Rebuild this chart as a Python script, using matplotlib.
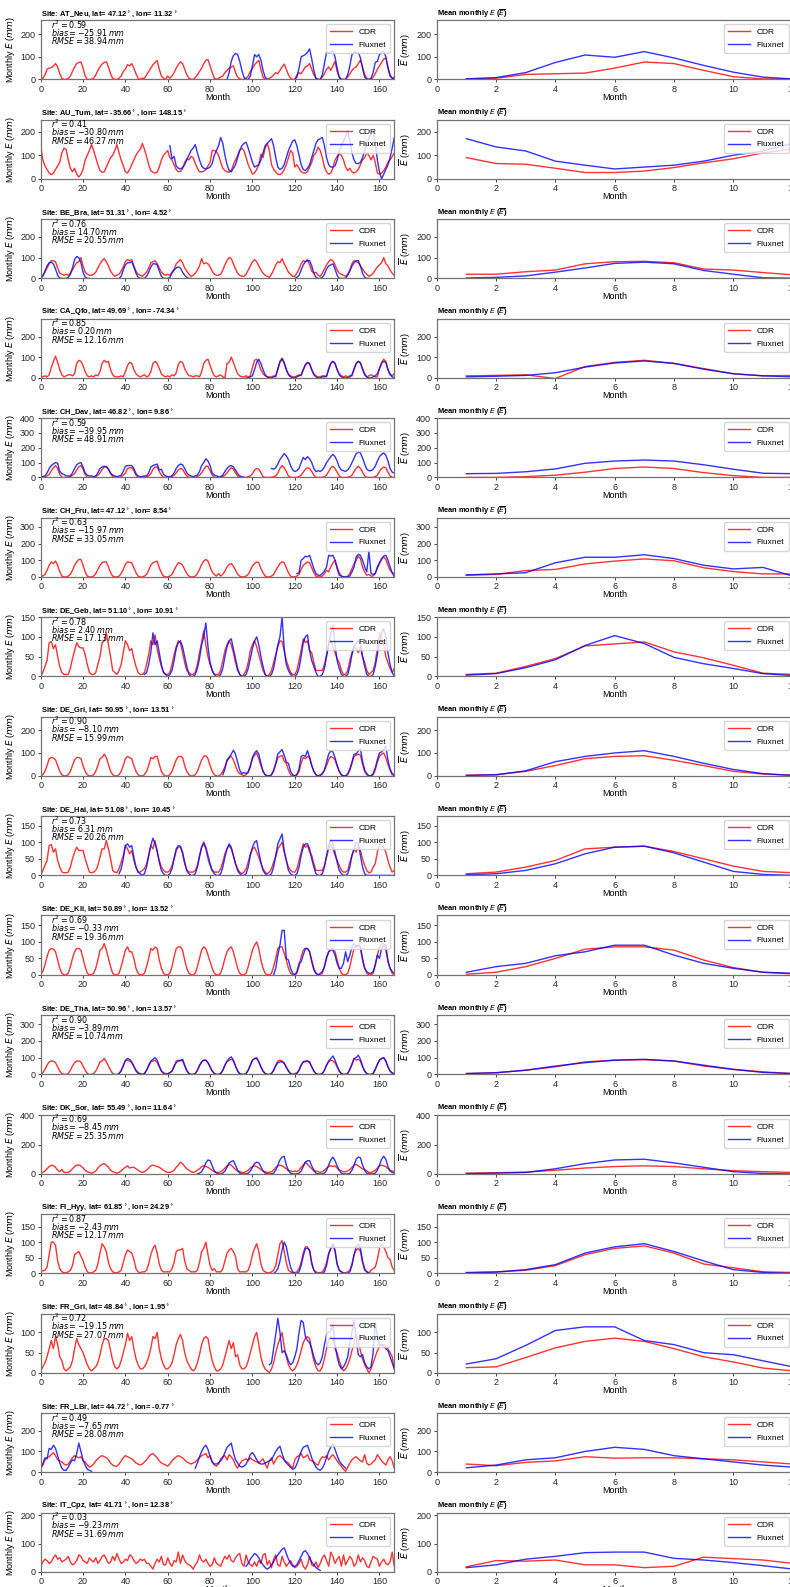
import numpy as np
import matplotlib
matplotlib.use('Agg')
import matplotlib.pyplot as plt

plt.rcParams['font.family'] = ['Liberation Sans', 'DejaVu Sans']
plt.rcParams['mathtext.fontset'] = 'dejavusans'

sites = ['AT_Neu', 'AU_Tum', 'BE_Bra', 'CA_Qfo', 'CH_Dav', 'CH_Fru', 'DE_Geb', 'DE_Gri',
         'DE_Hai', 'DE_Kli', 'DE_Tha', 'DK_Sor', 'FI_Hyy', 'FR_Gri', 'FR_LBr', 'IT_Cpz']
lats = [47.12, -35.66, 51.31, 49.69, 46.82, 47.12, 51.10, 50.95, 51.08, 50.89, 50.96, 55.49, 61.85, 48.84, 44.72, 41.71]
lons = [11.32, 148.15, 4.52, -74.34, 9.86, 8.54, 10.91, 13.51, 10.45, 13.52, 13.57, 11.64, 24.29, 1.95, -0.77, 12.38]
r2 = [0.59, 0.41, 0.76, 0.85, 0.59, 0.63, 0.78, 0.90, 0.73, 0.69, 0.90, 0.69, 0.87, 0.72, 0.49, 0.03]
bias = [-25.91, -30.80, 14.70, 0.20, -39.95, -15.97, 2.40, -8.10, 6.31, -0.33, -3.89, -8.45, -2.43, -19.15, -7.65, -9.23]
rmse = [38.94, 46.27, 20.55, 12.16, 48.91, 33.05, 17.13, 15.99, 20.26, 19.36, 10.74, 25.35, 12.17, 27.07, 28.08, 31.69]

# monthly E (mm), Jan 2001 onwards, one row per year
cdr_at_neu = [10, 5, 20, 45, 50, 52, 60, 70, 55, 25, 5, 0,
              0, 5, 15, 35, 55, 70, 75, 78, 50, 15, 0, 0,
              0, 5, 20, 40, 55, 68, 75, 78, 55, 25, 5, 0,
              0, 5, 15, 35, 45, 65, 60, 70, 50, 25, 5, 0,
              5, 5, 20, 35, 50, 65, 75, 83, 45, 15, 5, 0,
              15, 5, 15, 30, 50, 65, 78, 70, 45, 20, 5, 0,
              0, 8, 20, 35, 50, 70, 85, 88, 60, 30, 5, 0,
              5, 10, 15, 30, 40, 50, 55, 60, 30, 10, 2, 0,
              0, 5, 15, 35, 50, 65, 75, 85, 45, 10, 0, 0,
              5, 10, 20, 30, 25, 40, 55, 68, 45, 20, 5, 0,
              0, 20, 30, 25, 40, 55, 60, 70, 45, 20, 5, 0,
              0, 10, 25, 45, 55, 40, 60, 80, 35, 10, 0, 0,
              0, 10, 25, 40, 50, 55, 70, 85, 55, 20, 5, 0,
              0, 10, 25, 45, 60, 75, 90, 95, 55, 20, 5, 10]
cdr_au_tum = [140, 80, 55, 40, 25, 18, 25, 40, 55, 70, 110, 130,
              125, 80, 45, 30, 45, 20, 8, 20, 40, 80, 100, 120,
              145, 120, 90, 60, 35, 28, 30, 50, 70, 90, 100, 120,
              145, 110, 80, 55, 30, 25, 40, 60, 80, 100, 115, 125,
              150, 125, 95, 60, 35, 28, 25, 28, 50, 80, 100, 110,
              120, 90, 80, 60, 40, 30, 32, 45, 70, 85, 80, 95,
              90, 65, 45, 30, 30, 32, 40, 55, 70, 120, 120, 115,
              100, 70, 45, 35, 30, 28, 35, 60, 80, 100, 120, 130,
              120, 90, 60, 40, 20, 25, 40, 60, 105, 90, 130, 150,
              120, 60, 40, 30, 20, 18, 25, 40, 60, 90, 120, 110,
              50, 60, 45, 30, 25, 25, 30, 50, 70, 100, 110, 135,
              120, 90, 50, 30, 20, 25, 45, 80, 95, 105, 100, 80,
              50, 35, 45, 30, 25, 30, 40, 60, 80, 90, 110, 100,
              80, 100, 70, 25, 20, 25, 35, 50, 70, 80, 95, 110]
cdr_be_bra = [5, 15, 30, 50, 70, 85, 85, 80, 50, 25, 20, 15,
              20, 15, 25, 40, 60, 75, 80, 100, 60, 30, 20, 15,
              15, 20, 30, 50, 70, 85, 95, 80, 60, 35, 20, 10,
              15, 20, 35, 55, 80, 90, 85, 90, 60, 35, 20, 15,
              10, 20, 30, 50, 75, 80, 85, 70, 50, 30, 20, 15,
              20, 15, 30, 45, 70, 80, 90, 75, 50, 35, 20, 10,
              15, 25, 40, 60, 95, 70, 75, 70, 55, 35, 20, 15,
              15, 20, 40, 65, 85, 100, 95, 70, 45, 25, 15, 10,
              10, 20, 40, 60, 80, 90, 80, 60, 40, 25, 15, 10,
              5, 20, 40, 65, 80, 75, 95, 70, 50, 30, 20, 10,
              10, 25, 45, 70, 85, 80, 90, 65, 35, 25, 30, 15,
              10, 25, 45, 65, 80, 90, 85, 65, 40, 25, 20, 15,
              10, 20, 40, 70, 85, 80, 75, 60, 45, 30, 20, 10,
              15, 25, 40, 55, 65, 75, 100, 70, 60, 40, 25, 15]
cdr_ca_qfo = [10, 5, 10, 5, 15, 50, 80, 105, 75, 40, 15, 5,
              10, 15, 15, 10, 20, 70, 85, 80, 60, 30, 10, 5,
              10, 5, 15, 10, 30, 70, 85, 75, 80, 40, 15, 5,
              5, 5, 10, 5, 30, 60, 75, 70, 40, 20, 10, 5,
              10, 15, 5, 10, 30, 70, 80, 70, 45, 20, 10, 5,
              10, 5, 15, 10, 25, 65, 80, 75, 45, 25, 10, 10,
              5, 10, 10, 5, 30, 70, 85, 90, 60, 30, 10, 5,
              10, 15, 5, 0, 70, 75, 100, 75, 45, 20, 10, 5,
              5, 10, 5, 10, 50, 85, 90, 70, 40, 20, 10, 5,
              5, 5, 10, 5, 40, 75, 90, 70, 40, 20, 10, 5,
              5, 10, 15, 10, 40, 60, 75, 65, 40, 20, 10, 5,
              5, 10, 10, 5, 45, 70, 80, 70, 40, 20, 10, 5,
              10, 5, 10, 10, 40, 70, 80, 70, 45, 20, 5, 10,
              15, 10, 5, 5, 45, 75, 90, 80, 40, 20, 10, 20]
cdr_ch_dav = [0, 0, 5, 10, 20, 45, 65, 80, 60, 20, 0, 0,
              0, 0, 5, 15, 25, 50, 70, 80, 55, 20, 0, 0,
              0, 0, 5, 15, 30, 55, 70, 75, 55, 25, 5, 0,
              0, 0, 5, 15, 30, 60, 65, 65, 45, 15, 0, 0,
              0, 0, 5, 10, 25, 55, 70, 70, 40, 15, 0, 0,
              0, 0, 5, 15, 30, 50, 60, 55, 30, 10, 0, 0,
              0, 0, 5, 15, 30, 55, 75, 75, 45, 15, 0, 0,
              0, 0, 5, 15, 30, 50, 65, 55, 30, 10, 0, 0,
              0, 0, 5, 10, 25, 50, 60, 55, 30, 5, 0, 0,
              0, 0, 5, 10, 30, 60, 80, 65, 40, 10, 0, 0,
              0, 0, 5, 15, 35, 55, 65, 60, 40, 15, 0, 0,
              0, 0, 5, 15, 40, 65, 75, 60, 35, 10, 0, 0,
              0, 0, 5, 15, 40, 60, 75, 60, 35, 10, 0, 0,
              0, 0, 5, 15, 40, 60, 70, 65, 35, 10, 0, 0]
cdr_ch_fru = [5, 5, 15, 40, 70, 90, 80, 95, 70, 30, 5, 0,
              0, 5, 15, 40, 70, 90, 105, 105, 70, 30, 5, 0,
              0, 5, 20, 45, 70, 85, 90, 90, 60, 25, 5, 0,
              0, 5, 20, 45, 75, 90, 88, 85, 55, 25, 5, 0,
              0, 5, 15, 40, 70, 85, 90, 95, 55, 25, 5, 0,
              0, 5, 15, 40, 65, 85, 80, 70, 45, 20, 5, 0,
              0, 5, 20, 45, 75, 95, 105, 95, 60, 30, 15, 5,
              20, 5, 15, 35, 60, 75, 80, 65, 40, 15, 5, 0,
              0, 5, 15, 40, 65, 80, 90, 85, 50, 25, 5, 0,
              0, 5, 15, 40, 60, 80, 90, 85, 55, 25, 5, 0,
              0, 5, 15, 45, 70, 80, 90, 85, 55, 25, 5, 0,
              0, 5, 20, 40, 30, 60, 85, 100, 60, 25, 5, 0,
              0, 5, 20, 50, 80, 100, 125, 110, 60, 30, 10, 15,
              5, 5, 20, 50, 80, 105, 120, 105, 70, 40, 25, 20]
cdr_de_geb = [0, 10, 25, 40, 85, 88, 70, 80, 50, 25, 10, 5,
              5, 5, 20, 45, 65, 85, 75, 72, 72, 55, 30, 10,
              5, 5, 10, 30, 50, 85, 90, 110, 80, 50, 15, 10,
              5, 15, 30, 60, 90, 80, 65, 70, 45, 25, 10, 5,
              5, 10, 30, 55, 90, 80, 105, 70, 45, 25, 10, 5,
              5, 10, 30, 55, 75, 90, 85, 60, 35, 15, 10, 5,
              5, 10, 30, 60, 85, 115, 80, 50, 30, 15, 5, 5,
              5, 15, 40, 65, 80, 90, 80, 60, 35, 15, 5, 0,
              5, 15, 35, 65, 80, 90, 75, 55, 35, 15, 5, 0,
              5, 15, 35, 55, 75, 90, 88, 65, 40, 25, 10, 5,
              5, 15, 40, 65, 95, 85, 90, 65, 60, 35, 15, 15,
              15, 15, 30, 55, 80, 90, 75, 60, 45, 35, 15, 5,
              5, 15, 40, 60, 75, 70, 60, 75, 50, 35, 15, 5,
              10, 15, 35, 70, 110, 100, 80, 50, 35, 20, 10, 20]
cdr_de_gri = [0, 5, 20, 45, 75, 80, 78, 70, 45, 20, 5, 0,
              0, 5, 20, 45, 70, 80, 80, 75, 45, 20, 5, 0,
              0, 5, 20, 45, 75, 80, 95, 80, 50, 20, 5, 0,
              0, 5, 20, 45, 75, 85, 80, 75, 45, 20, 5, 0,
              0, 5, 20, 45, 80, 75, 85, 85, 50, 20, 5, 0,
              0, 5, 20, 45, 70, 85, 85, 80, 45, 20, 5, 0,
              0, 5, 20, 45, 70, 85, 88, 75, 45, 20, 5, 0,
              0, 5, 20, 40, 65, 80, 85, 70, 45, 20, 10, 5,
              0, 5, 20, 45, 75, 90, 100, 75, 45, 20, 5, 0,
              0, 5, 20, 50, 80, 85, 90, 65, 55, 25, 5, 0,
              0, 5, 20, 55, 80, 75, 85, 80, 45, 20, 5, 0,
              5, 10, 25, 45, 70, 85, 80, 70, 45, 20, 5, 0,
              0, 5, 25, 55, 85, 90, 95, 90, 50, 20, 5, 0,
              0, 5, 25, 60, 85, 95, 100, 80, 50, 25, 5, 0]
cdr_de_hai = [0, 15, 30, 45, 90, 93, 70, 80, 45, 25, 10, 8,
              8, 10, 25, 50, 70, 85, 75, 75, 75, 50, 30, 10,
              8, 10, 15, 30, 55, 80, 80, 105, 80, 50, 15, 10,
              8, 20, 40, 60, 90, 80, 65, 75, 45, 25, 10, 10,
              15, 20, 35, 60, 90, 80, 105, 70, 45, 25, 15, 10,
              10, 15, 30, 50, 75, 85, 85, 65, 35, 15, 10, 10,
              10, 15, 30, 60, 85, 95, 80, 50, 30, 15, 10, 10,
              10, 20, 40, 65, 80, 90, 80, 60, 35, 20, 10, 5,
              10, 20, 40, 65, 80, 85, 70, 55, 35, 20, 10, 5,
              10, 20, 40, 55, 80, 90, 100, 70, 45, 25, 15, 10,
              10, 20, 45, 70, 95, 85, 90, 70, 60, 35, 15, 15,
              15, 15, 30, 55, 80, 95, 80, 60, 45, 30, 15, 10,
              10, 15, 40, 60, 80, 70, 90, 75, 50, 30, 15, 8,
              10, 25, 35, 70, 95, 90, 85, 70, 45, 25, 10, 15]
cdr_de_kli = [0, 10, 30, 55, 75, 80, 78, 70, 45, 20, 5, 0,
              0, 5, 25, 50, 70, 80, 80, 75, 50, 25, 5, 0,
              0, 5, 20, 45, 75, 80, 95, 75, 50, 25, 5, 0,
              0, 5, 25, 50, 75, 85, 70, 70, 50, 20, 5, 0,
              0, 5, 25, 50, 80, 75, 85, 80, 45, 20, 5, 0,
              0, 5, 25, 55, 80, 85, 85, 75, 45, 20, 5, 0,
              0, 5, 25, 50, 75, 85, 80, 60, 40, 20, 5, 0,
              0, 5, 25, 50, 70, 80, 85, 70, 45, 20, 5, 0,
              0, 5, 25, 50, 75, 90, 100, 80, 45, 20, 5, 0,
              0, 5, 25, 50, 80, 85, 85, 65, 45, 20, 5, 0,
              0, 5, 25, 55, 75, 80, 80, 70, 45, 20, 5, 0,
              0, 5, 25, 55, 70, 80, 80, 70, 45, 20, 5, 0,
              0, 5, 25, 55, 80, 90, 90, 80, 45, 20, 5, 0,
              0, 5, 30, 60, 85, 95, 95, 75, 45, 20, 5, 0]
cdr_de_tha = [0, 10, 30, 55, 75, 80, 78, 70, 45, 20, 5, 0,
              0, 5, 25, 50, 70, 80, 80, 75, 50, 25, 5, 0,
              0, 5, 20, 45, 75, 80, 95, 75, 50, 25, 5, 0,
              0, 5, 25, 55, 80, 85, 80, 70, 45, 20, 5, 0,
              0, 5, 25, 50, 75, 80, 85, 70, 45, 20, 10, 5,
              0, 10, 20, 45, 80, 85, 80, 85, 50, 20, 5, 0,
              0, 5, 25, 50, 75, 85, 85, 70, 45, 20, 5, 0,
              0, 5, 25, 55, 75, 85, 90, 80, 50, 20, 5, 0,
              0, 5, 25, 55, 85, 95, 100, 75, 45, 20, 5, 0,
              0, 5, 25, 55, 80, 85, 80, 70, 40, 20, 5, 0,
              5, 10, 25, 55, 75, 75, 80, 70, 45, 20, 5, 0,
              0, 5, 25, 55, 75, 85, 80, 70, 45, 20, 5, 0,
              0, 5, 30, 60, 95, 85, 90, 80, 45, 20, 5, 0,
              0, 5, 30, 60, 85, 95, 100, 80, 45, 20, 5, 0]
cdr_dk_sor = [5, 10, 20, 35, 50, 60, 55, 45, 25, 15, 30, 10,
              10, 10, 20, 35, 50, 60, 60, 55, 40, 25, 15, 10,
              5, 10, 20, 40, 55, 65, 70, 60, 45, 25, 15, 10,
              5, 10, 20, 35, 45, 55, 40, 45, 45, 35, 25, 15,
              10, 15, 25, 40, 55, 60, 55, 50, 45, 35, 25, 15,
              10, 10, 15, 25, 45, 60, 80, 70, 50, 35, 25, 15,
              10, 15, 25, 35, 50, 55, 50, 45, 35, 25, 15, 10,
              10, 15, 25, 40, 55, 65, 60, 45, 30, 20, 15, 10,
              10, 15, 25, 40, 50, 55, 50, 40, 30, 20, 15, 10,
              10, 15, 25, 45, 55, 60, 55, 45, 35, 20, 20, 15,
              20, 15, 25, 45, 60, 80, 65, 50, 35, 20, 20, 15,
              10, 15, 25, 40, 50, 55, 50, 55, 40, 25, 20, 15,
              15, 20, 30, 45, 60, 65, 55, 45, 35, 30, 20, 10,
              10, 15, 25, 40, 55, 60, 55, 50, 35, 25, 20, 15]
cdr_fi_hyy = [8, 8, 10, 20, 60, 100, 100, 90, 40, 15, 5, 2,
              2, 5, 10, 25, 60, 65, 70, 55, 40, 20, 5, 2,
              2, 5, 10, 30, 65, 95, 85, 70, 35, 15, 5, 2,
              2, 5, 10, 35, 60, 75, 70, 65, 45, 15, 5, 2,
              5, 5, 10, 30, 60, 80, 90, 65, 30, 10, 5, 5,
              5, 5, 15, 35, 70, 75, 75, 80, 40, 15, 10, 5,
              5, 5, 10, 35, 70, 80, 100, 60, 25, 10, 15, 5,
              5, 5, 15, 40, 65, 75, 80, 70, 55, 15, 5, 5,
              5, 5, 10, 30, 60, 80, 95, 70, 30, 10, 5, 2,
              2, 5, 10, 25, 60, 95, 105, 70, 35, 10, 5, 2,
              2, 5, 15, 35, 65, 85, 85, 70, 30, 10, 5, 2,
              2, 5, 15, 35, 65, 80, 90, 70, 30, 10, 5, 2,
              2, 5, 10, 30, 60, 75, 80, 70, 35, 10, 5, 2,
              10, 15, 20, 45, 80, 95, 85, 70, 50, 45, 20, 10]
cdr_fr_gri = [5, 15, 25, 40, 60, 80, 60, 90, 70, 40, 30, 10,
              5, 10, 15, 30, 60, 85, 70, 60, 50, 35, 20, 10,
              5, 10, 15, 25, 45, 70, 85, 85, 80, 55, 30, 15,
              10, 15, 30, 50, 70, 98, 80, 90, 60, 35, 20, 10,
              10, 15, 25, 40, 60, 90, 85, 100, 60, 35, 20, 10,
              10, 15, 25, 45, 70, 85, 95, 80, 50, 30, 20, 10,
              5, 10, 25, 45, 70, 85, 90, 85, 55, 30, 15, 5,
              5, 10, 20, 40, 60, 80, 60, 75, 40, 45, 20, 10,
              10, 15, 30, 50, 70, 90, 100, 70, 40, 20, 10, 5,
              0, 10, 25, 50, 70, 85, 100, 65, 40, 20, 10, 5,
              10, 20, 35, 55, 75, 85, 90, 85, 55, 30, 15, 5,
              5, 15, 35, 60, 80, 90, 85, 60, 50, 30, 15, 5,
              10, 20, 35, 55, 75, 95, 80, 55, 35, 20, 10, 0,
              10, 25, 40, 55, 65, 70, 70, 65, 60, 50, 40, 10]
cdr_fr_lbr = [20, 35, 60, 70, 75, 85, 95, 80, 60, 55, 50, 40,
              35, 40, 55, 70, 80, 75, 70, 75, 55, 50, 35, 25,
              30, 40, 55, 65, 75, 80, 75, 70, 60, 45, 35, 30,
              30, 40, 55, 70, 80, 75, 70, 65, 55, 45, 40, 35,
              40, 50, 60, 75, 85, 90, 80, 70, 55, 45, 40, 35,
              30, 40, 55, 65, 75, 80, 75, 70, 60, 50, 45, 40,
              45, 50, 60, 70, 80, 85, 90, 70, 80, 50, 35, 30,
              40, 65, 75, 80, 60, 85, 75, 60, 35, 20, 40, 55,
              60, 65, 55, 70, 60, 55, 50, 45, 55, 65, 40, 20,
              55, 70, 40, 60, 75, 80, 70, 60, 50, 45, 30, 20,
              60, 75, 80, 90, 70, 75, 85, 60, 55, 50, 40, 35,
              60, 75, 70, 80, 60, 75, 85, 70, 55, 40, 30, 15,
              5, 25, 45, 60, 70, 75, 65, 55, 50, 85, 45, 35,
              40, 50, 60, 85, 70, 55, 45, 35, 60, 75, 55, 20]
cdr_it_cpz = [20, 35, 45, 40, 30, 35, 50, 60, 45, 50, 35, 40,
              45, 55, 35, 25, 30, 40, 60, 55, 40, 35, 30, 50,
              40, 35, 50, 30, 40, 55, 60, 45, 30, 35, 55, 40,
              65, 45, 30, 35, 45, 40, 60, 55, 40, 30, 35, 45,
              40, 45, 30, 30, 20, 10, 30, 45, 35, 55, 25, 25,
              50, 30, 20, 40, 35, 70, 30, 60, 40, 30, 25, 20,
              10, 25, 35, 60, 40, 35, 45, 30, 20, 25, 50, 30,
              25, 20, 40, 55, 45, 60, 40, 35, 50, 60, 65, 30,
              20, 60, 35, 25, 20, 35, 20, 40, 30, 60, 65, 25,
              40, 15, 45, 60, 25, 20, 55, 35, 20, 30, 40, 25,
              15, 20, 30, 45, 20, 10, 25, 55, 25, 20, 35, 15,
              30, 50, 60, 40, 20, 70, 55, 30, 45, 55, 20, 60,
              25, 40, 55, 45, 20, 30, 60, 35, 50, 40, 20, 15,
              35, 55, 50, 45, 20, 35, 45, 30, 25, 35, 70, 20]

# Fluxnet tower records: (first month index, values)
flux_at_neu = [(88, [0, 30, 80, 105, 115, 110, 80, 40, 10, 0, 0, 15, 60, 110, 100, 110, 85, 40, 10, 0]),
               (120, [0, 10, 50, 100, 105, 110, 120, 135, 90, 40, 5, 0,
                      0, 20, 70, 120, 115, 120, 125, 100, 50, 10, 0, 0,
                      0, 20, 60, 110, 120, 115, 120, 95, 50, 10, 0, 0,
                      5, 30, 75, 80, 110, 120, 125, 100, 50, 15, 5, 5])]
flux_au_tum = [(61, [140,
                     85, 95, 55, 45, 42, 48, 60, 80, 100, 120, 130, 145,
                     110, 80, 55, 45, 42, 45, 50, 65, 100, 120, 140, 175,
                     150, 100, 60, 35, 30, 45, 60, 90, 120, 140, 150, 155,
                     130, 100, 70, 50, 55, 60, 80, 110, 140, 150, 160, 170,
                     140, 90, 50, 40, 45, 60, 90, 120, 140, 160, 165, 140,
                     100, 60, 40, 35, 45, 60, 90, 120, 150, 165, 170, 175,
                     140, 90, 60, 50, 50, 55, 80, 120, 140, 160, 180, 205,
                     160, 110, 80, 65, 65, 70, 90, 120, 150, 170, 190, 205,
                     150, 80, 30, 0, 20, 40, 60, 90, 130, 175])]
flux_be_bra = [(0, [0, 10, 35, 60, 75, 78, 70, 45, 15, 2, 0, 0,
                    0, 5, 20, 50, 90, 105, 100, 75, 30, 5, 0, 0]),
               (37, [0, 10, 40, 65, 75, 75, 80, 55, 25, 5, 0, 0, 0, 10, 30, 55, 70, 70,
                     65, 35, 10, 0, 0, 0, 5, 25, 40, 50, 55, 50, 30, 15, 5, 0, 0]),
               (120, [0, 5, 15, 40, 65, 80, 85, 85, 60, 25, 5, 0,
                      0, 5, 20, 45, 60, 65, 70, 45, 15, 0, 0, 0,
                      0, 15, 35, 60, 75, 85, 85, 60, 25, 5, 0, 0])]
flux_ca_qfo = [(97, [0, 0, 5, 10, 40, 75, 90, 70, 40, 15, 5,
                     0, 0, 5, 10, 45, 80, 95, 75, 40, 15, 5, 0,
                     0, 5, 10, 15, 40, 65, 75, 70, 40, 15, 5, 0,
                     0, 5, 5, 10, 40, 70, 80, 70, 40, 15, 5, 0,
                     0, 0, 5, 15, 45, 70, 80, 75, 40, 15, 5, 0,
                     0, 5, 10, 20, 45, 70, 80, 75, 40, 15, 5, 0])]
flux_ch_dav = [(0, [5, 5, 10, 30, 60, 80, 90, 100, 95, 40, 25, 20,
                    10, 10, 10, 30, 60, 85, 95, 100, 70, 30, 15, 10,
                    10, 5, 10, 30, 60, 70, 75, 70, 55, 30, 15, 10,
                    5, 10, 15, 40, 75, 80, 80, 80, 60, 25, 10, 5,
                    5, 10, 10, 30, 70, 80, 85, 90, 50, 55, 20, 10,
                    5, 5, 10, 30, 60, 80, 90, 85, 60, 30, 15, 10,
                    5, 10, 15, 40, 80, 100, 125, 110, 80, 30, 15, 10,
                    5, 5, 15, 40, 60, 75, 80, 70, 50, 25, 10, 5, 0]),
               (109, [60, 55, 65, 90, 120, 140, 160, 145, 120, 80, 50,
                      40, 45, 60, 100, 135, 120, 140, 125, 100, 60, 40, 45,
                      40, 50, 70, 100, 120, 140, 155, 140, 110, 70, 50, 45,
                      40, 50, 70, 100, 130, 160, 170, 165, 130, 90, 55, 45,
                      45, 55, 75, 110, 140, 155, 165, 150, 110, 60, 35, 30])]
flux_ch_fru = [(121, [20, 25, 100, 110, 125, 120, 130, 90, 50, 20, 10,
                      10, 20, 35, 60, 130, 125, 130, 100, 50, 10, 5, 0,
                      0, 0, 5, 30, 60, 120, 135, 130, 100, 60, 30, 155,
                      20, 15, 20, 60, 85, 110, 125, 130, 100, 60, 25, 0])]
flux_de_geb = [(49, [5, 10, 30, 60, 110, 80, 90, 60, 30, 10, 5,
                     0, 5, 15, 40, 70, 85, 90, 75, 50, 25, 5, 0,
                     0, 5, 20, 45, 80, 100, 135, 75, 35, 15, 5, 0,
                     0, 5, 20, 50, 75, 90, 95, 70, 45, 20, 5, 0,
                     0, 5, 20, 45, 70, 90, 100, 80, 50, 25, 5, 0,
                     0, 5, 20, 50, 80, 100, 150, 70, 30, 15, 5, 0,
                     0, 5, 20, 50, 85, 100, 105, 65, 40, 25, 10, 0,
                     0, 5, 20, 50, 80, 110, 130, 80, 40, 20, 5, 0,
                     0, 5, 25, 55, 75, 85, 90, 80, 50, 25, 5, 0,
                     0, 5, 25, 55, 90, 110, 120, 100, 60, 30, 10, 0])]
flux_de_gri = [(86, [5, 30, 70, 80, 95, 112, 95, 60, 25, 10,
                     15, 10, 15, 40, 80, 100, 110, 95, 55, 20, 5, 0,
                     0, 5, 25, 55, 95, 105, 115, 90, 60, 55, 20, 5,
                     0, 5, 30, 85, 90, 85, 110, 80, 45, 20, 5, 0,
                     0, 10, 25, 60, 95, 110, 105, 80, 45, 20, 5, 0,
                     0, 10, 30, 60, 95, 95, 110, 118, 65, 25, 10, 0,
                     0, 10, 35, 70, 100, 105, 115, 130, 70, 30, 10, 5])]
flux_de_hai = [(37, [5, 20, 50, 90, 95, 85, 90, 55, 25, 10, 5,
                     0, 5, 25, 60, 90, 112, 95, 75, 40, 15, 5, 0,
                     0, 5, 20, 50, 80, 90, 88, 70, 40, 15, 5, 0,
                     0, 5, 25, 55, 85, 100, 85, 60, 35, 15, 5, 0,
                     0, 5, 25, 55, 80, 95, 85, 60, 35, 15, 5, 0,
                     0, 5, 25, 60, 85, 100, 105, 70, 40, 15, 5, 0,
                     0, 5, 25, 60, 95, 110, 125, 75, 45, 15, 5, 0,
                     0, 5, 25, 60, 85, 95, 95, 80, 50, 25, 5, 0,
                     0, 5, 25, 60, 90, 107, 95, 70, 40, 15, 5, 0,
                     0, 5, 25, 60, 80, 100, 95, 60, 25, 5, 0, 0,
                     0, 0, 0, 0, 0, 0, 0, 0, 0, 0, 0, 0])]
flux_de_kli = [(110, [0, 20, 60, 90, 135, 135, 50, 45, 20, 5,
                      0, 10, 35, 40, 60, 80, 80, 70, 40, 15, 5, 0,
                      5, 10, 25, 50, 70, 75, 75, 60, 35, 20, 20, 35,
                      70, 40, 60, 85, 95, 85, 90, 85, 50, 20, 10, 5,
                      5, 10, 30, 60, 50, 80, 90, 90, 40, 20, 10, 5])]
flux_de_tha = [(37, [5, 20, 50, 85, 95, 90, 75, 50, 25, 10, 5,
                     0, 5, 25, 55, 80, 90, 100, 85, 50, 20, 5, 0,
                     5, 10, 20, 50, 70, 80, 85, 90, 55, 25, 5, 0,
                     0, 5, 25, 55, 75, 85, 85, 70, 45, 20, 5, 0,
                     0, 5, 25, 55, 80, 95, 105, 85, 50, 20, 5, 0,
                     0, 5, 25, 55, 85, 95, 95, 75, 45, 20, 5, 0,
                     0, 5, 25, 50, 70, 75, 75, 65, 45, 20, 5, 0,
                     0, 5, 25, 55, 75, 80, 80, 75, 45, 20, 5, 0,
                     0, 5, 25, 55, 80, 95, 110, 85, 50, 20, 5, 0,
                     0, 5, 30, 60, 95, 100, 115, 90, 50, 20, 5, 0,
                     0, 5, 30, 60, 85, 95, 100, 80, 45, 20, 10, 5])]
flux_dk_sor = [(74, [0, 5, 15, 40, 75, 95, 90, 55, 20, 5,
                     0, 0, 5, 20, 45, 75, 85, 90, 60, 25, 5, 0,
                     0, 0, 5, 20, 45, 70, 80, 75, 50, 20, 5, 0,
                     0, 0, 5, 25, 60, 95, 115, 120, 60, 25, 5, 0,
                     0, 0, 5, 20, 50, 80, 90, 90, 55, 25, 5, 0,
                     0, 0, 5, 25, 60, 95, 115, 90, 55, 25, 5, 0,
                     0, 0, 5, 25, 60, 100, 115, 110, 60, 25, 5, 0,
                     0, 0, 5, 25, 60, 100, 120, 100, 50, 20, 10, 5])]
flux_fi_hyy = [(110, [0, 5, 15, 40, 75, 100, 85, 50, 20, 5,
                      0, 0, 5, 25, 55, 80, 80, 75, 35, 10, 0, 0,
                      0, 0, 5, 25, 60, 80, 95, 75, 30, 10, 5, 0,
                      0, 0, 5, 25, 60, 85, 95, 80, 40, 15, 5, 0, 0, 0])]
flux_fr_gri = [(108, [20, 25, 60, 95, 135, 100, 50, 55, 45, 30, 20, 25,
                      40, 60, 100, 130, 125, 90, 80, 75, 60, 40, 25, 20,
                      25, 40, 70, 95, 100, 105, 120, 70, 40, 20, 10, 15,
                      25, 40, 75, 100, 130, 85, 45, 40, 45, 25, 15, 10,
                      15, 50, 125, 90, 70, 70, 65, 60, 55, 40, 25, 10])]
flux_fr_lbr = [(0, [20, 40, 70, 65, 115, 110, 130, 115, 80, 45, 20, 10, 10,
                    25, 45, 60, 55, 90, 140, 100, 60, 35, 15, 10, 5]),
               (73, [20, 45, 75, 100, 120, 130, 110, 75, 50, 40, 40, 45,
                     55, 70, 95, 120, 130, 140, 95, 60, 45, 30, 25, 30,
                     40, 60, 85, 95, 80, 60, 45, 40, 40, 45, 50, 55,
                     60, 80, 100, 115, 125, 90, 60, 45, 35, 25, 15, 20,
                     40, 70, 100, 120, 125, 130, 100, 70, 45, 25, 15, 10,
                     20, 40, 70, 100, 120, 135, 110, 80, 55, 40, 30, 20])]
flux_it_cpz = [(97, [20, 30, 45, 55, 65, 60, 50, 35, 25, 15, 10, 15,
                     25, 35, 50, 60, 70, 80, 85, 65, 45, 30, 20, 20,
                     25, 40, 55, 70, 75, 65, 50, 35, 25, 15, 10, 5])]

# mean monthly E, Jan..Dec
mean_cdr = [[3, 5, 22, 25, 28, 50, 77, 70, 40, 12, 2, 3],
            [90, 65, 62, 45, 27, 27, 33, 48, 68, 85, 110, 127],
            [20, 20, 32, 40, 70, 80, 82, 75, 45, 40, 28, 17],
            [10, 12, 15, -3, 55, 75, 85, 70, 45, 20, 10, 12],
            [0, 0, 5, 15, 35, 60, 70, 60, 32, 12, 0, 0],
            [10, 15, 38, 45, 78, 95, 108, 97, 55, 32, 18, 18],
            [5, 8, 25, 45, 77, 82, 87, 62, 47, 28, 8, 5],
            [3, 5, 20, 45, 75, 85, 88, 68, 45, 20, 8, 3],
            [5, 10, 25, 45, 80, 85, 88, 72, 50, 28, 12, 8],
            [2, 8, 25, 50, 78, 85, 85, 75, 45, 22, 8, 3],
            [5, 10, 25, 45, 75, 85, 88, 80, 50, 30, 15, 5],
            [5, 8, 12, 25, 40, 50, 55, 50, 35, 22, 15, 10],
            [3, 5, 10, 25, 60, 80, 88, 65, 30, 18, 5, 3],
            [13, 15, 38, 62, 78, 86, 78, 60, 40, 27, 12, 5],
            [40, 32, 48, 55, 75, 68, 70, 70, 65, 60, 50, 40],
            [18, 40, 38, 42, 25, 25, 15, 20, 52, 47, 42, 30]]
mean_flux = [[2, 8, 30, 75, 108, 98, 123, 95, 62, 32, 10, 2],
             [170, 135, 118, 75, 58, 42, 50, 58, 75, 100, 118, 150],
             [2, 5, 12, 30, 50, 72, 78, 70, 38, 20, 3, 1],
             [5, 8, 12, 25, 52, 72, 82, 70, 42, 20, 10, 5],
             [25, 27, 38, 57, 95, 110, 117, 110, 85, 55, 28, 25],
             [12, 18, 25, 85, 118, 118, 133, 110, 70, 48, 57, 5],
             [3, 7, 22, 42, 78, 103, 83, 48, 32, 20, 7, 2],
             [2, 5, 22, 62, 85, 100, 110, 85, 55, 28, 10, 2],
             [2, 5, 15, 35, 65, 85, 88, 68, 40, 12, 3, 0],
             [8, 25, 35, 58, 70, 90, 90, 60, 35, 20, 8, 5],
             [5, 10, 25, 50, 70, 85, 90, 80, 55, 30, 12, 5],
             [2, 5, 10, 35, 70, 95, 100, 75, 45, 15, 3, 0],
             [2, 4, 12, 28, 65, 85, 95, 70, 40, 12, 3, 0],
             [22, 35, 68, 105, 114, 114, 80, 70, 50, 45, 30, 15],
             [22, 35, 60, 70, 100, 120, 110, 80, 65, 50, 35, 25],
             [15, 25, 45, 55, 68, 70, 70, 48, 42, 33, 22, 10]]

cdr_all = [cdr_at_neu, cdr_au_tum, cdr_be_bra, cdr_ca_qfo, cdr_ch_dav, cdr_ch_fru, cdr_de_geb, cdr_de_gri,
           cdr_de_hai, cdr_de_kli, cdr_de_tha, cdr_dk_sor, cdr_fi_hyy, cdr_fr_gri, cdr_fr_lbr, cdr_it_cpz]
flux_all = [flux_at_neu, flux_au_tum, flux_be_bra, flux_ca_qfo, flux_ch_dav, flux_ch_fru, flux_de_geb, flux_de_gri,
            flux_de_hai, flux_de_kli, flux_de_tha, flux_dk_sor, flux_fi_hyy, flux_fr_gri, flux_fr_lbr, flux_it_cpz]

# axis limits / tick spacing per site
y_top = [263, 251, 285, 287, 400, 357, 150, 259, 179, 180, 355, 405, 190, 147, 284, 210]
y_step = [100, 100, 100, 100, 100, 100, 50, 100, 50, 50, 100, 200, 50, 50, 100, 100]


def to_series(segments, n):
    arr = np.full(n, np.nan)
    for start, vals in segments:
        arr[start:start + len(vals)] = vals
    return arr


def style_axes(ax):
    for s in ax.spines.values():
        s.set_color('0.45')
        s.set_linewidth(0.9)
    ax.tick_params(labelsize=6.5, length=2.5, width=0.6, pad=1.5, colors='0.15')


W, H = 790, 1587
fig = plt.figure(figsize=(W / 100, H / 100), dpi=100)

for i, site in enumerate(sites):
    top = 20 + 99.5 * i
    h = 59.4
    bottom = 1 - (top + h) / H

    cdr = np.array(cdr_all[i], dtype=float)
    months = np.arange(len(cdr))
    flux = to_series(flux_all[i], len(cdr))

    ax = fig.add_axes([40.7 / W, bottom, 353.6 / W, h / H])
    ax.plot(months, cdr, color='red', alpha=0.8, lw=1.0, label='CDR')
    ax.plot(months, flux, color='blue', alpha=0.8, lw=1.0, label='Fluxnet')
    ax.set_xlim(0, 167)
    ax.set_ylim(0, y_top[i])
    ax.set_xticks(np.arange(0, 161, 20))
    ax.set_yticks(np.arange(0, y_top[i] + 1, y_step[i]))
    ax.set_xlabel('Month', fontsize=6.5, labelpad=-1)
    ax.set_ylabel('Monthly $E$ ($mm$)', fontsize=6.5, labelpad=2)
    ax.set_title(f'Site: {site}, lat= {lats[i]:.2f}$^\\circ$, lon= {lons[i]:.2f}$^\\circ$',
                 loc='left', fontsize=5.4, fontweight='bold', pad=3)
    ax.text(0.03, 0.925, f'$r^2 = {r2[i]:.2f}$', transform=ax.transAxes, fontsize=5.8, va='center')
    ax.text(0.03, 0.79, f'$bias = {bias[i]:.2f}\\,mm$', transform=ax.transAxes, fontsize=5.8, va='center')
    ax.text(0.03, 0.65, f'$RMSE = {rmse[i]:.2f}\\,mm$', transform=ax.transAxes, fontsize=5.8, va='center')
    ax.legend(loc='upper right', fontsize=6, handlelength=2.6, borderpad=0.5, labelspacing=0.6)
    style_axes(ax)

    ax2 = fig.add_axes([436.7 / W, bottom, 356 / W, h / H])
    ax2.plot(np.arange(1, 13), mean_cdr[i], color='red', alpha=0.8, lw=1.0, label='CDR')
    ax2.plot(np.arange(1, 13), mean_flux[i], color='blue', alpha=0.8, lw=1.0, label='Fluxnet')
    ax2.set_xlim(0, 12)
    ax2.set_ylim(0, y_top[i])
    ax2.set_xticks(np.arange(0, 13, 2))
    ax2.set_yticks(np.arange(0, y_top[i] + 1, y_step[i]))
    ax2.set_xlabel('Month', fontsize=6.5, labelpad=-1)
    ax2.set_ylabel('$\\overline{E}$ ($mm$)', fontsize=6.5, labelpad=2)
    ax2.set_title('Mean monthly $E$ ($\\overline{E}$)', loc='left', fontsize=5.4, fontweight='bold', pad=3)
    ax2.legend(loc='upper right', fontsize=6, handlelength=2.6, borderpad=0.5, labelspacing=0.6)
    style_axes(ax2)

fig.savefig('out.png', dpi=100)
